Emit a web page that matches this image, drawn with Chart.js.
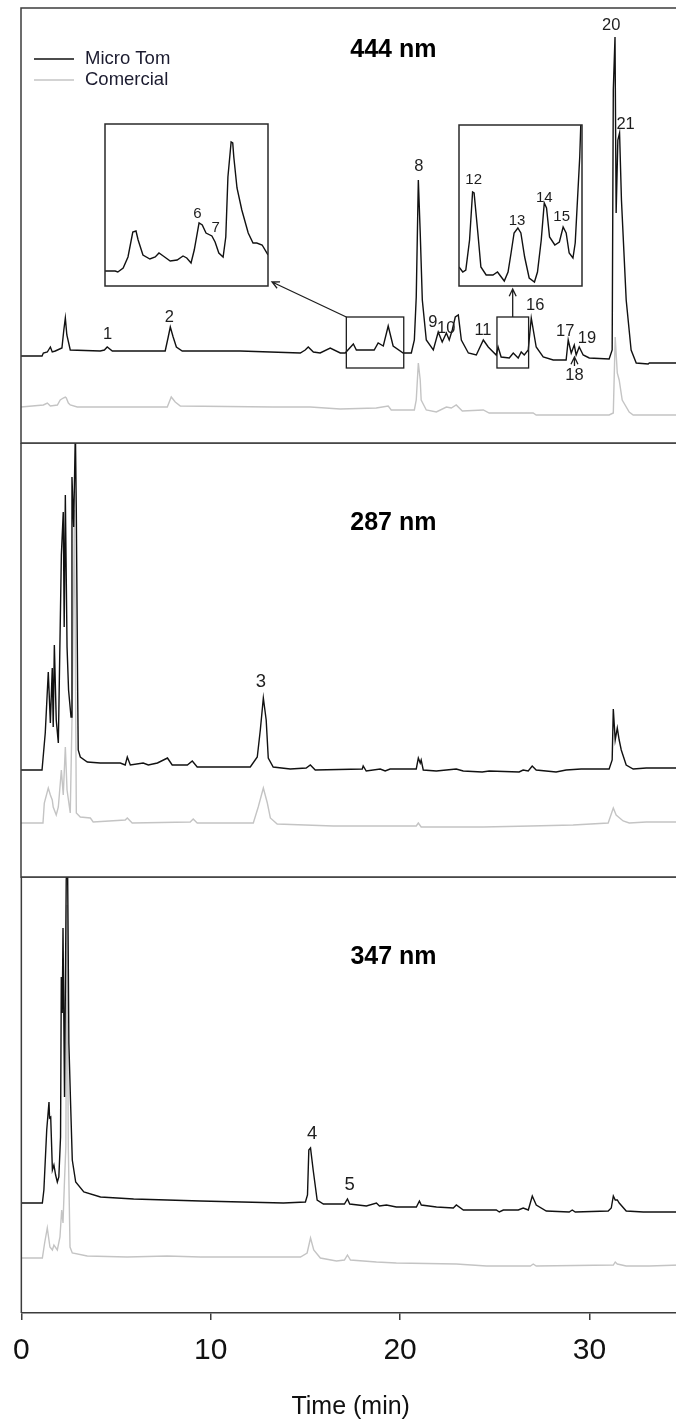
<!DOCTYPE html>
<html>
<head>
<meta charset="utf-8">
<title>Chromatograms 444 / 287 / 347 nm</title>
<script src="https://cdn.jsdelivr.net/npm/chart.js@4.4.1/dist/chart.umd.min.js"></script>
<style>
  html, body { margin: 0; padding: 0; background: #fff; }
  #fig { position: relative; width: 676px; height: 1423px; overflow: hidden; background: #fff; }
  #fig canvas { position: absolute; }
</style>
</head>
<body>
<div id="fig">
  <canvas id="c444" width="690" height="444" style="left:0;top:0"></canvas>
  <canvas id="c287" width="690" height="435" style="left:0;top:443px"></canvas>
  <canvas id="c347" width="690" height="546" style="left:0;top:877px"></canvas>
  <canvas id="zoomA" width="169" height="168" style="left:102px;top:121px"></canvas>
  <canvas id="zoomB" width="129" height="167" style="left:456px;top:122px"></canvas>
</div>
<script>
// ---- retention time axis (min) ----
const timeTicks = [0, 10, 20, 30];
const timeMax = 34.78;

// ---- 444 nm traces: [time (min), signal (a.u.)] ----
const micro444 = [[0,87],[1.11,87],[1.18,90],[1.39,91],[1.55,96],[1.65,91],[1.81,92],[2.16,95],[2.26,113],[2.34,125],[2.42,108],[2.60,93],[4.18,92],[4.40,93],[4.55,96],[4.82,92],[6.30,92],[7.61,92],[7.77,106],[7.88,116],[8.03,106],[8.20,96],[8.51,92],[11.57,92],[14.74,90],[15.00,93],[15.16,96],[15.43,91],[15.79,90],[16.32,95],[16.85,90],[17.11,90],[17.54,99],[17.70,93],[18.64,93],[18.85,100],[19.12,97],[19.38,117],[19.64,97],[20.17,90],[20.60,90],[20.76,103],[20.86,146],[20.97,263],[21.07,210],[21.18,143],[21.39,103],[21.76,93],[22.02,111],[22.23,101],[22.45,110],[22.60,103],[22.76,113],[22.92,126],[23.08,128],[23.24,103],[23.61,90],[24.03,88],[24.40,103],[24.66,96],[25.08,88],[25.18,96],[25.34,86],[25.77,85],[25.98,90],[26.24,85],[26.40,91],[26.56,88],[26.77,93],[26.93,125],[27.19,96],[27.56,86],[28.09,83],[28.77,83],[28.88,103],[29.04,90],[29.20,98],[29.30,88],[29.46,96],[29.67,88],[29.99,85],[31.04,84],[31.20,93],[31.26,353],[31.35,406],[31.41,230],[31.50,303],[31.59,310],[31.69,243],[31.94,143],[32.20,93],[32.47,80],[33.10,79],[33.16,80],[34.78,80]];
const com444 = [[0,36],[1.18,38],[1.39,40],[1.55,37],[1.92,38],[2.07,43],[2.23,45],[2.34,46],[2.39,45],[2.50,40],[2.60,38],[2.97,36],[7.72,36],[7.93,46],[8.14,41],[8.41,37],[13.31,36],[15.27,36],[16.85,34],[18.75,35],[19.38,37],[19.54,33],[20.76,33],[20.86,43],[20.97,80],[21.07,63],[21.12,43],[21.39,33],[21.92,31],[22.45,36],[22.71,35],[22.97,38],[23.29,32],[24.40,33],[24.71,30],[27.03,30],[27.19,28],[31.04,28],[31.26,30],[31.36,106],[31.47,70],[31.57,63],[31.73,43],[32.10,31],[32.31,28],[34.78,28]];

// enlarged segments of the 444 nm Micro Tom trace
const microZoomA = [[17.18,15],[17.37,15],[17.42,14],[17.52,18],[17.61,29],[17.70,54],[17.76,55],[17.80,46],[17.89,31],[18.02,27],[18.12,29],[18.19,33],[18.27,30],[18.40,25],[18.53,26],[18.64,30],[18.71,28],[18.79,23],[18.85,36],[18.94,63],[19.00,61],[19.07,53],[19.18,50],[19.24,44],[19.31,33],[19.39,29],[19.44,49],[19.48,109],[19.54,144],[19.57,143],[19.59,129],[19.65,98],[19.74,76],[19.86,53],[19.95,43],[20.02,43],[20.12,41],[20.23,31]];
const microZoomB = [[25.14,19],[25.15,19],[25.19,14],[25.23,16],[25.28,46],[25.32,94],[25.34,93],[25.39,53],[25.43,19],[25.50,11],[25.59,11],[25.65,14],[25.70,9],[25.74,5],[25.79,14],[25.83,33],[25.87,53],[25.92,58],[25.96,53],[26.01,29],[26.07,8],[26.14,4],[26.18,14],[26.23,46],[26.27,83],[26.30,78],[26.34,49],[26.41,41],[26.47,44],[26.52,59],[26.56,53],[26.60,33],[26.65,28],[26.68,43],[26.71,86],[26.74,129],[26.76,175]];

// ---- 287 nm traces ----
const micro287 = [[0,107],[1.11,107],[1.28,144],[1.44,205],[1.55,154],[1.65,209],[1.70,150],[1.76,232],[1.86,157],[1.97,134],[2.13,322],[2.23,365],[2.28,250],[2.34,382],[2.43,230],[2.51,187],[2.64,160],[2.69,400],[2.78,350],[2.87,447],[2.92,364],[2.99,187],[3.02,127],[3.13,120],[3.50,115],[4.18,114],[5.24,114],[5.50,112],[5.61,120],[5.77,112],[6.45,114],[6.72,112],[7.20,114],[7.73,119],[7.98,112],[8.78,112],[9.04,116],[9.30,110],[12.10,110],[12.47,120],[12.63,147],[12.79,179],[12.94,157],[13.05,119],[13.31,110],[14.21,108],[15.05,109],[15.27,112],[15.53,107],[18.01,108],[18.06,111],[18.22,106],[18.96,108],[19.22,106],[19.48,108],[20.86,108],[20.97,119],[21.07,114],[21.12,117],[21.23,107],[21.92,106],[22.97,108],[23.34,106],[24.34,105],[24.71,106],[26.29,105],[26.50,107],[26.77,106],[26.98,111],[27.19,107],[28.24,105],[28.77,107],[29.56,108],[31.04,108],[31.20,117],[31.26,168],[31.36,137],[31.47,149],[31.57,137],[31.68,127],[31.94,112],[32.31,108],[33.00,109],[34.78,109]];
const com287 = [[0,54],[1.16,54],[1.23,74],[1.44,89],[1.55,82],[1.65,77],[1.70,70],[1.86,62],[1.97,70],[2.13,107],[2.23,82],[2.34,130],[2.43,87],[2.60,64],[2.71,177],[2.82,367],[2.92,64],[3.13,60],[3.66,59],[3.81,55],[5.50,57],[5.61,59],[5.87,54],[8.93,55],[9.09,58],[9.30,54],[12.26,54],[12.52,70],[12.79,89],[13.00,74],[13.16,59],[13.52,53],[16.48,51],[20.86,51],[20.97,54],[21.12,50],[24.40,50],[26.88,51],[29.14,52],[30.99,54],[31.26,69],[31.41,62],[31.78,56],[32.10,54],[33.00,55],[34.78,55]];

// ---- 347 nm traces ----
const micro347 = [[0,110],[1.11,110],[1.19,123],[1.34,183],[1.46,211],[1.49,195],[1.55,196],[1.64,143],[1.72,148],[1.81,138],[1.90,131],[1.98,136],[2.07,176],[2.11,336],[2.16,300],[2.20,385],[2.28,216],[2.37,433],[2.44,453],[2.51,270],[2.60,210],[2.69,153],[2.87,131],[3.30,121],[4.18,116],[5.93,114],[9.46,112],[13.84,110],[15.00,111],[15.11,118],[15.18,163],[15.27,165],[15.41,143],[15.62,113],[15.95,109],[17.06,109],[17.22,114],[17.34,109],[18.22,107],[18.75,110],[18.91,107],[19.28,108],[19.80,106],[20.86,106],[21.02,112],[21.12,108],[21.92,106],[22.81,105],[22.97,108],[23.34,103],[25.08,103],[25.24,101],[25.45,103],[26.24,103],[26.50,105],[26.77,103],[26.98,117],[27.19,108],[27.72,102],[28.93,101],[29.09,103],[29.25,101],[30.99,102],[31.15,105],[31.26,117],[31.36,113],[31.47,113],[31.57,110],[31.94,102],[32.84,101],[34.78,101]];
const com347 = [[0,55],[1.11,55],[1.23,70],[1.37,85],[1.51,66],[1.64,63],[1.72,68],[1.90,63],[2.04,76],[2.13,103],[2.20,90],[2.28,133],[2.35,166],[2.41,408],[2.48,166],[2.57,66],[2.69,60],[3.48,57],[5.59,56],[7.70,57],[9.46,56],[14.74,56],[15.09,60],[15.27,75],[15.44,63],[15.79,55],[16.64,52],[17.06,53],[17.22,58],[17.38,53],[18.75,51],[19.80,50],[22.97,49],[24.56,47],[26.88,47],[27.03,49],[27.19,47],[31.26,48],[31.36,51],[31.47,49],[31.94,47],[33.16,47],[34.78,48]];

// ---- peak numbering: tag text, retention time, label height ----
const tags444 = ['1','2','8','9','10','11','16','17','18','19','20','21'];
const tagTime444 = [4.57,7.83,21.0,21.74,22.44,24.38,27.14,28.72,29.21,29.87,31.15,31.91];
const tagLevel444 = [109,126,277,121,115,113,138,112,68,105,418,319];
const tagsZoomA = ['6','7'];
const tagTimeZoomA = [18.91,19.25];
const tagLevelZoomA = [72,58];
const tagsZoomB = ['12','13','14','15'];
const tagTimeZoomB = [25.335,25.91,26.27,26.50];
const tagLevelZoomB = [106,65,88,69];
const tags287 = ['3'], tagTime287 = [12.66], tagLevel287 = [195];
const tags347 = ['4','5'], tagTime347 = [15.36,17.34], tagLevel347 = [179,128];

const FONT = '"Liberation Sans", Arial, Helvetica, sans-serif';
const INK = '#1e1e1e';
const BLACK = '#111111';
const GRAY = '#c4c4c4';
const FRAME = '#3c3c3c';

const toXY = arr => arr.map(p => ({ x: p[0], y: p[1] }));

// panel frame: left, top and (optionally) bottom edges of the plot area
const framePlugin = {
  id: 'frame',
  beforeDraw(chart, args, o) {
    if (!o.fill) return;
    const a = chart.chartArea, ctx = chart.ctx;
    ctx.save();
    ctx.fillStyle = '#fff';
    ctx.fillRect(a.left, a.top, a.right - a.left, a.bottom - a.top);
    ctx.restore();
  },
  afterDraw(chart, args, o) {
    const a = chart.chartArea, ctx = chart.ctx;
    ctx.save();
    ctx.strokeStyle = o.color || FRAME;
    ctx.lineWidth = o.width || 1.5;
    ctx.beginPath();
    if (o.box) {
      ctx.rect(a.left, a.top, a.right - a.left, a.bottom - a.top);
    } else {
      ctx.moveTo(a.right + 20, a.top); ctx.lineTo(a.left, a.top);
      ctx.lineTo(a.left, a.bottom);
      if (o.bottom) ctx.lineTo(a.right + 20, a.bottom);
    }
    ctx.stroke();
    ctx.restore();
  }
};

// peak numbers, wavelength title, zoom boxes, arrows and legend
const notesPlugin = {
  id: 'notes',
  afterDraw(chart, args, o) {
    const ctx = chart.ctx, xs = chart.scales.x, ys = chart.scales.y;
    const px = t => xs.getPixelForValue(t), py = v => ys.getPixelForValue(v);
    ctx.save();
    ctx.strokeStyle = INK;
    ctx.lineWidth = 1.3;
    (o.boxes || []).forEach(b => {
      const x0 = px(b[0]), x1 = px(b[1]), y0 = py(b[3]), y1 = py(b[2]);
      ctx.strokeRect(x0, y0, x1 - x0, y1 - y0);
    });
    (o.arrows || []).forEach(a => {
      const x0 = px(a[0][0]), y0 = py(a[0][1]), x1 = px(a[1][0]), y1 = py(a[1][1]);
      const ang = Math.atan2(y1 - y0, x1 - x0), h = 8;
      ctx.beginPath();
      ctx.moveTo(x0, y0); ctx.lineTo(x1, y1);
      ctx.moveTo(x1 - h * Math.cos(ang - 0.45), y1 - h * Math.sin(ang - 0.45));
      ctx.lineTo(x1, y1);
      ctx.lineTo(x1 - h * Math.cos(ang + 0.45), y1 - h * Math.sin(ang + 0.45));
      ctx.stroke();
    });
    ctx.fillStyle = INK;
    ctx.textAlign = 'center';
    ctx.textBaseline = 'middle';
    if (o.tags) {
      ctx.font = `${o.tagSize}px ${FONT}`;
      o.tags.forEach((s, i) => ctx.fillText(s, px(o.tagTime[i]), py(o.tagLevel[i])));
    }
    if (o.title) {
      ctx.fillStyle = '#000';
      ctx.font = `bold 25px ${FONT}`;
      ctx.fillText(o.title, px(o.titleAt[0]), py(o.titleAt[1]));
    }
    if (o.legend) {
      const L = o.legend;
      ctx.textAlign = 'left';
      ctx.font = `18.5px ${FONT}`;
      chart.data.datasets.forEach((ds, i) => {
        const y = L.y + i * L.gap;
        ctx.strokeStyle = ds.borderColor;
        ctx.lineWidth = 1.6;
        ctx.beginPath(); ctx.moveTo(L.x, y); ctx.lineTo(L.x + L.len, y); ctx.stroke();
        ctx.fillStyle = '#1c1c30';
        ctx.fillText(ds.label, L.textX, y);
      });
    }
    ctx.restore();
  }
};

function traceSet(micro, com) {
  const common = { pointRadius: 0, tension: 0, borderWidth: 1.4, fill: false };
  return [
    Object.assign({ label: 'Micro Tom', data: toXY(micro), borderColor: BLACK }, common),
    Object.assign({ label: 'Comercial', data: toXY(com), borderColor: GRAY }, common)
  ];
}

function makeChart(id, datasets, cfg) {
  const xAxis = cfg.axis ? {
    type: 'linear', position: 'bottom', min: 0, max: timeMax,
    afterBuildTicks: s => { s.ticks = timeTicks.map(v => ({ value: v })); },
    ticks: { autoSkip: false, includeBounds: false, padding: 13, maxRotation: 0,
             color: '#111', font: { family: FONT, size: 30 }, callback: v => String(v) },
    grid: { drawOnChartArea: false, drawTicks: true, tickLength: 7, color: FRAME, lineWidth: 1.5 },
    border: { display: true, color: FRAME, width: 1.5 },
    title: { display: true, text: 'Time (min)', color: '#111',
             font: { family: FONT, size: 25 }, padding: { top: 10, bottom: 1 } }
  } : { type: 'linear', display: false, min: cfg.xMin, max: cfg.xMax };
  return new Chart(document.getElementById(id), {
    type: 'line',
    data: { datasets },
    options: {
      responsive: false, animation: false, devicePixelRatio: 1,
      layout: { padding: cfg.padding },
      scales: { x: xAxis, y: { type: 'linear', display: false, min: 0, max: cfg.yMax } },
      plugins: {
        legend: { display: false }, tooltip: { enabled: false },
        frame: cfg.frame, notes: cfg.notes
      }
    },
    plugins: [framePlugin, notesPlugin]
  });
}

// 444 nm panel
makeChart('c444', traceSet(micro444, com444), {
  xMin: 0, xMax: timeMax, yMax: 435,
  padding: { left: 21, top: 8, right: 10, bottom: 1 },
  frame: { bottom: true },
  notes: {
    tags: tags444, tagTime: tagTime444, tagLevel: tagLevel444, tagSize: 16.5,
    title: '444 nm', titleAt: [19.65, 392.5],
    boxes: [[17.17, 20.20, 75, 126], [25.12, 26.79, 75, 126]],
    arrows: [[[17.17, 126], [13.25, 161]], [[25.95, 126], [25.95, 154]], [[29.21, 77], [29.21, 86]]],
    legend: { x: 34, y: 59, gap: 21, len: 40, textX: 85 }
  }
});

// 287 nm panel
makeChart('c287', traceSet(micro287, com287), {
  xMin: 0, xMax: timeMax, yMax: 434,
  padding: { left: 21, top: 0, right: 10, bottom: 1 },
  frame: { bottom: true },
  notes: { tags: tags287, tagTime: tagTime287, tagLevel: tagLevel287, tagSize: 18.5,
           title: '287 nm', titleAt: [19.65, 353.5] }
});

// 347 nm panel with the time axis
makeChart('c347', traceSet(micro347, com347), {
  axis: true, yMax: 436,
  padding: { left: 21, top: 0, right: 10, bottom: 0 },
  frame: { bottom: false },
  notes: { tags: tags347, tagTime: tagTime347, tagLevel: tagLevel347, tagSize: 18.5,
           title: '347 nm', titleAt: [19.65, 355.5] }
});

// enlarged views of the two boxed regions of the 444 nm trace
function zoomSet(points) {
  return [{ label: 'Micro Tom', data: toXY(points), borderColor: BLACK,
            pointRadius: 0, tension: 0, borderWidth: 1.4, fill: false }];
}
makeChart('zoomA', zoomSet(microZoomA), {
  xMin: 17.18, xMax: 20.23, yMax: 162,
  padding: { left: 3, top: 3, right: 3, bottom: 3 },
  frame: { box: true, fill: true, color: '#2a2a2a', width: 1.5 },
  notes: { tags: tagsZoomA, tagTime: tagTimeZoomA, tagLevel: tagLevelZoomA, tagSize: 15 }
});
makeChart('zoomB', zoomSet(microZoomB), {
  xMin: 25.14, xMax: 26.77, yMax: 161,
  padding: { left: 3, top: 3, right: 3, bottom: 3 },
  frame: { box: true, fill: true, color: '#2a2a2a', width: 1.5 },
  notes: { tags: tagsZoomB, tagTime: tagTimeZoomB, tagLevel: tagLevelZoomB, tagSize: 15 }
});
</script>
</body>
</html>
